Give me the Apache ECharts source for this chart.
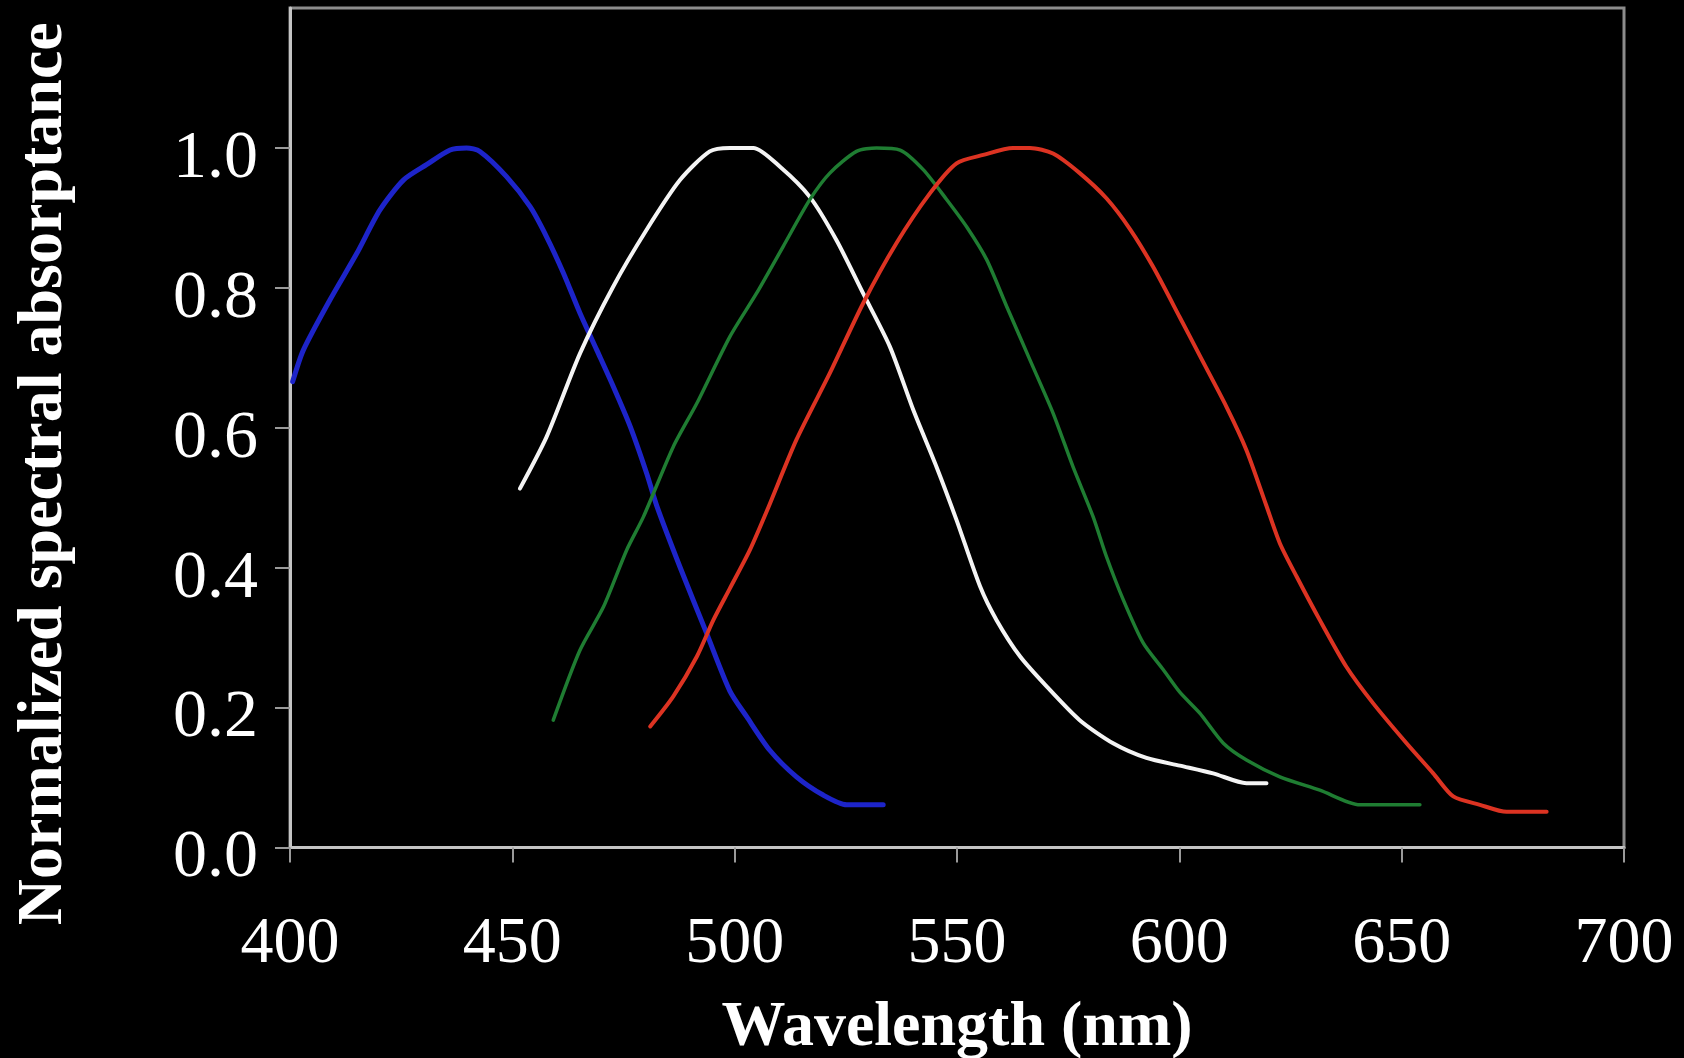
<!DOCTYPE html>
<html>
<head>
<meta charset="utf-8">
<script src="https://cdn.jsdelivr.net/npm/echarts@6/dist/echarts.min.js"></script>
<style>
  html, body { margin: 0; padding: 0; background: #000; }
  #chart { width: 1684px; height: 1058px; }
</style>
</head>
<body>
<div id="chart"></div>
<script>
// ---- data (wavelength nm, normalized absorptance) ----
const blueCurve = [
  [400.6,0.666],[403,0.711],[409,0.783],[415,0.849],[420.2,0.911],[425.5,0.954],
  [430.7,0.976],[436,0.997],[439.7,1.0],[442.7,0.995],[448.7,0.959],[454,0.916],
  [457.7,0.873],[461.5,0.821],[465.2,0.764],[469,0.711],[472.7,0.659],[476.5,0.602],
  [480.2,0.535],[482.5,0.488],[487.7,0.401],[493.7,0.306],[498.9,0.224],[502.7,0.187],
  [507.9,0.139],[513.9,0.101],[519.9,0.075],[525.2,0.061],[533.4,0.061]
];
const whiteCurve = [
  [451.7,0.513],[457.7,0.587],[465.2,0.706],[472.7,0.802],[480.2,0.883],[487.7,0.954],
  [494.4,0.995],[498.9,1.0],[504.2,1.0],[510.2,0.973],[516.9,0.930],[522.9,0.868],
  [528.9,0.792],[534.9,0.716],[540.2,0.625],[545.4,0.544],[549.9,0.468],[555.2,0.373],
  [558.9,0.325],[564.2,0.273],[570.2,0.23],[577.6,0.182],[585.1,0.149],[592.6,0.128],
  [600.1,0.117],[607.6,0.106],[615.1,0.092],[619.6,0.092]
];
const greenCurve = [
  [459.2,0.182],[465.2,0.282],[470.5,0.344],[475.7,0.425],[479.5,0.473],[486.2,0.573],
  [491.5,0.635],[498.9,0.73],[504.9,0.792],[510.9,0.859],[516.9,0.926],[521.4,0.964],
  [527.4,0.995],[531.9,1.0],[537.2,0.997],[542.4,0.969],[547.7,0.926],[552.2,0.887],
  [556.7,0.84],[561.2,0.773],[566.4,0.697],[571.6,0.621],[576.1,0.544],[580.6,0.473],
  [583.6,0.416],[587.4,0.354],[591.9,0.292],[596.4,0.254],[600.1,0.222],[604.6,0.192],
  [609.9,0.149],[615.1,0.125],[622.6,0.101],[631.6,0.082],[640.6,0.061],[654.1,0.061]
];
const redCurve = [
  [481,0.173],[486.2,0.216],[491.5,0.273],[495.2,0.325],[498.9,0.37],[503.4,0.425],
  [507.5,0.485],[513.9,0.583],[521.4,0.678],[528.9,0.778],[536.4,0.864],[543.9,0.935],
  [549.9,0.978],[555.9,0.99],[562.6,1.0],[566.4,1.0],[571.6,0.992],[577.6,0.964],
  [583.6,0.928],[588.9,0.884],[594.1,0.830],[600.1,0.758],[604.6,0.703],[610.6,0.630],
  [615.1,0.568],[619.5,0.49],[622.6,0.435],[626.4,0.387],[631.6,0.325],[637.6,0.258],
  [643.6,0.206],[651.1,0.149],[657.1,0.106],[661.6,0.073],[667.6,0.061],[673.6,0.051],
  [682.6,0.051]
];
const yTickValues = [0, 0.2, 0.4, 0.6, 0.8, 1.0];
const xTickValues = [400, 450, 500, 550, 600, 650, 700];
const xTitle = 'Wavelength (nm)';
const yTitle = 'Normalized spectral absorptance';

const FONT = '"Liberation Serif", "Times New Roman", serif';
const chart = echarts.init(document.getElementById('chart'), null, { renderer: 'canvas' });

function lineSeries(name, data, color, width) {
  return {
    name, type: 'line', data, showSymbol: false, symbol: 'none',
    smooth: 0.25, clip: true,
    lineStyle: { color, width, cap: 'round', join: 'round' },
    z: 3
  };
}

chart.setOption({
  backgroundColor: '#000000',
  animation: false,
  grid: {
    left: 290, right: 60, top: 8, bottom: 210.5,
    outerBoundsMode: 'none',
    show: true, borderColor: '#8c8c8c', borderWidth: 3, backgroundColor: 'transparent'
  },
  xAxis: {
    type: 'value', min: 400, max: 700, interval: 50,
    name: xTitle, nameLocation: 'middle', nameGap: 149,
    nameTextStyle: { color: '#ffffff', fontFamily: FONT, fontSize: 64, fontWeight: 'bold' },
    axisLine: { show: true, lineStyle: { color: '#c4c4c4', width: 3 } },
    axisTick: { show: true, length: 15, lineStyle: { color: '#9a9a9a', width: 2 }, customValues: xTickValues },
    axisLabel: { color: '#ffffff', fontFamily: FONT, fontSize: 66, margin: 64, customValues: xTickValues },
    splitLine: { show: false }
  },
  yAxis: {
    type: 'value', min: 0, max: 1.2, interval: 0.2,
    name: yTitle, nameLocation: 'middle', nameGap: 214,
    nameTextStyle: { color: '#ffffff', fontFamily: FONT, fontSize: 64, fontWeight: 'bold', padding: [0, 92, 0, 0] },
    axisLine: { show: true, lineStyle: { color: '#c4c4c4', width: 3 } },
    axisTick: { show: true, length: 15, lineStyle: { color: '#9a9a9a', width: 2 }, customValues: yTickValues },
    axisLabel: { color: '#ffffff', fontFamily: FONT, fontSize: 68, margin: 32, customValues: yTickValues,
      formatter: v => '{t|' + Number(v).toFixed(1) + '}',
      rich: { t: { color: '#ffffff', fontFamily: FONT, fontSize: 68, padding: [22, 0, 0, 0] } } },
    splitLine: { show: false }
  },
  series: [
    lineSeries('Blue', blueCurve, '#1d24c9', 5),
    lineSeries('White', whiteCurve, '#f4f4f4', 4),
    lineSeries('Green', greenCurve, '#1f7d32', 3.5),
    lineSeries('Red', redCurve, '#dc3322', 4)
  ]
});
</script>
</body>
</html>
